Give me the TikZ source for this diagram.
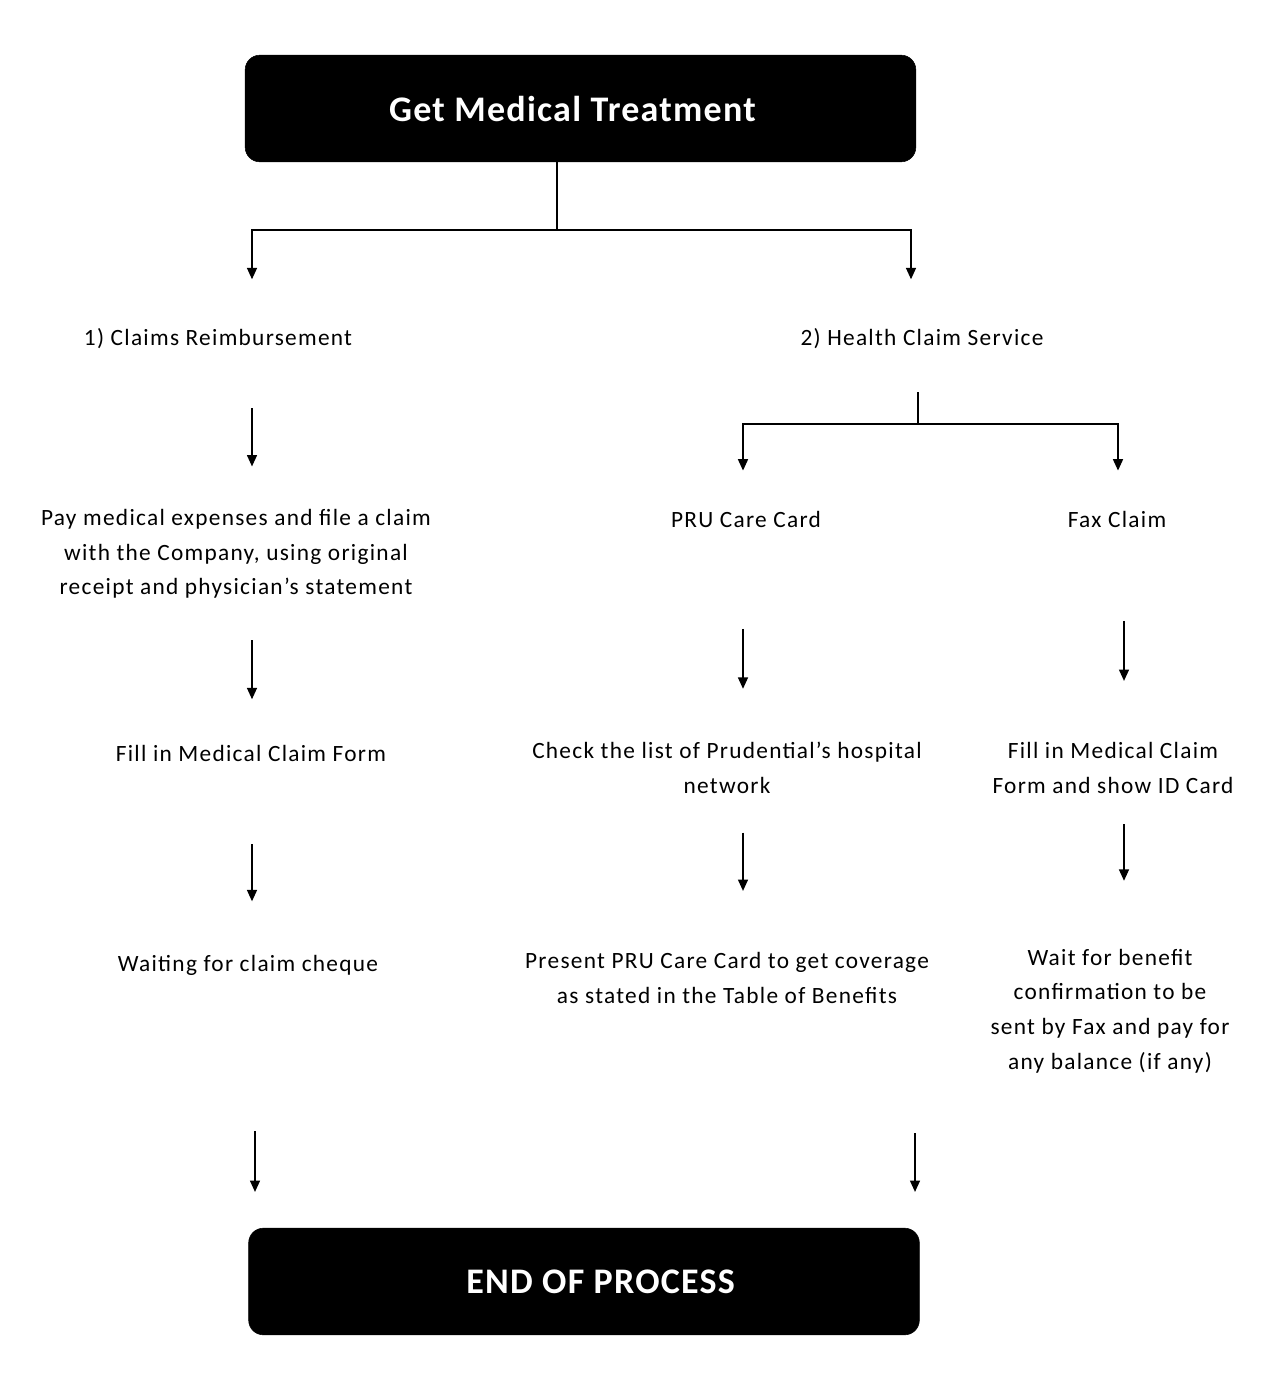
\documentclass[tikz,border=0pt]{standalone}
\usepackage{fontspec}
\setmainfont{Carlito}
\newfontfamily\bodyfont[LetterSpace=5.5]{Carlito}
\newfontfamily\headfont[LetterSpace=3.5]{Carlito}
\usetikzlibrary{arrows.meta}

\tikzset{
  headbox/.style={fill=black, draw=black, rounded corners=11pt, minimum width=503pt, minimum height=80pt, text=white, font=\headfont\fontsize{27}{32}\selectfont\bfseries},
  steptext/.style={align=center, inner sep=0pt, font=\bodyfont\fontsize{17.5}{26}\selectfont},
  flow/.style={-{Triangle[width=7.5pt,length=8.5pt]}, line width=1pt},
  link/.style={line width=1pt},
}

\begin{document}
\begin{tikzpicture}[x=0.75pt,y=0.75pt,yscale=-1,xscale=1]
\useasboundingbox (0,0) rectangle (1270,1374);

%Shape: Rounded Rect [id:treat]
\node [headbox] (treat) at (580.5,108.5) {Get Medical Treatment\hspace*{12pt}};
%Shape: Rounded Rect [id:finish]
\node [headbox] (finish) at (584,1281.5) {\hspace*{25pt}END OF PROCESS};

% Text Node
\node [steptext] (claims) at (218,339) {1) Claims Reimbursement};
% Text Node
\node [steptext] (health) at (922,339) {2) Health Claim Service};
% Text Node
\node [steptext] (pay) at (236,554) {Pay medical expenses and file a claim\\with the Company, using original\\receipt and physician’s statement};
% Text Node
\node [steptext] (fillA) at (251,753) {Fill in Medical Claim Form};
% Text Node
\node [steptext] (waitA) at (248,965) {Waiting for claim cheque};
% Text Node
\node [steptext] (pru) at (746,519) {PRU Care Card};
% Text Node
\node [steptext] (fax) at (1117,519) {Fax Claim};
% Text Node
\node [steptext] (check) at (727,768) {Check the list of Prudential’s hospital\\network};
% Text Node
\node [steptext] (fillB) at (1113,768) {Fill in Medical Claim\\Form and show ID Card};
% Text Node
\node [steptext] (present) at (727,978) {Present PRU Care Card to get coverage\\as stated in the Table of Benefits};
% Text Node
\node [steptext] (waitB) at (1110,1011) {Wait for benefit\\confirmation to be\\sent by Fax and pay for\\any balance (if any)};

% forks and arrow columns
\coordinate (fork) at (557,230);
\coordinate (fork2) at (918,424);
\coordinate (colA) at (252,0);
\coordinate (colB) at (911,0);
\coordinate (colC) at (743,0);
\coordinate (colD) at (1118,0);
\coordinate (colE) at (1124,0);
\coordinate (colF) at (255,0);
\coordinate (colG) at (915,0);

%Straight Lines [id:top fork]
\draw [link] (treat.south -| fork) -- (fork);
\draw [flow, shorten >=37pt] (fork) -| (claims.north -| colA);
\draw [flow, shorten >=37pt] (fork) -| (health.north -| colB);

%Straight Lines [id:health fork]
\draw [link, shorten <=32pt] (health.south -| fork2) -- (fork2);
\draw [flow, shorten >=30pt] (fork2) -| (pru.north -| colC);
\draw [flow, shorten >=30pt] (fork2) -| (fax.north -| colD);

%Straight Lines [id:left column]
\draw [flow, shorten <=44pt, shorten >=32pt] (claims.south -| colA) -- (pay.north -| colA);
\draw [flow, shorten <=31pt, shorten >=34pt] (pay.south -| colA) -- (fillA.north -| colA);
\draw [flow, shorten <=62pt, shorten >=40pt] (fillA.south -| colA) -- (waitA.north -| colA);
\draw [flow, shorten <=117pt, shorten >=27pt] (waitA.south -| colF) -- (finish.north -| colF);

%Straight Lines [id:middle column]
\draw [flow, shorten <=76pt, shorten >=40pt] (pru.south -| colC) -- (check.north -| colC);
\draw [flow, shorten <=29pt, shorten >=46pt] (check.south -| colC) -- (present.north -| colC);
\draw [flow, shorten <=97pt, shorten >=27pt] (present.south -| colG) -- (finish.north -| colG);

%Straight Lines [id:right column]
\draw [flow, shorten <=70pt, shorten >=46pt] (fax.south -| colE) -- (fillB.north -| colE);
\draw [flow, shorten <=23pt, shorten >=51pt] (fillB.south -| colE) -- (waitB.north -| colE);

\end{tikzpicture}
\end{document}
